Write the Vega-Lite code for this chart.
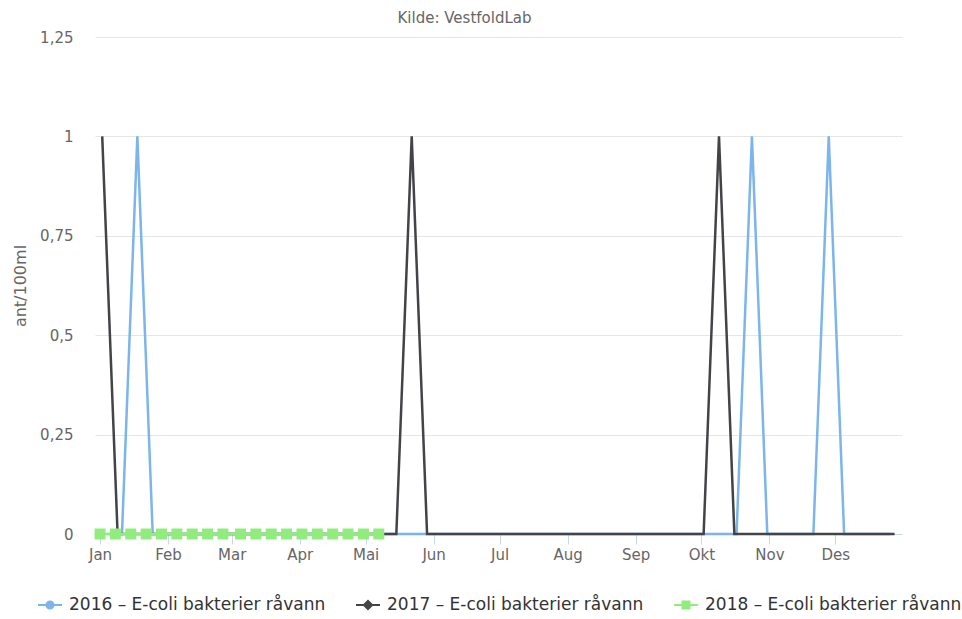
{
  "$schema": "https://vega.github.io/schema/vega-lite/v6.json",
  "width": 807,
  "height": 497,
  "autosize": {"type": "none"},
  "padding": {"left": 95, "top": 37, "right": 60, "bottom": 85},
  "background": "white",
  "config": {
    "font": "DejaVu Sans",
    "view": {"stroke": null}
  },
  "title": {
    "text": "Kilde: VestfoldLab",
    "fontSize": 15,
    "fontWeight": "normal",
    "color": "#666666",
    "anchor": "middle",
    "dx": -34,
    "offset": 4
  },
  "datasets": {
    "prover": [
      {"serie": "2016 – E-coli bakterier råvann", "dato": "2016-01-04", "verdi": 0},
      {"serie": "2016 – E-coli bakterier råvann", "dato": "2016-01-11", "verdi": 0},
      {"serie": "2016 – E-coli bakterier råvann", "dato": "2016-01-18", "verdi": 1},
      {"serie": "2016 – E-coli bakterier råvann", "dato": "2016-01-25", "verdi": 0},
      {"serie": "2016 – E-coli bakterier råvann", "dato": "2016-02-01", "verdi": 0},
      {"serie": "2016 – E-coli bakterier råvann", "dato": "2016-02-08", "verdi": 0},
      {"serie": "2016 – E-coli bakterier råvann", "dato": "2016-02-15", "verdi": 0},
      {"serie": "2016 – E-coli bakterier råvann", "dato": "2016-02-22", "verdi": 0},
      {"serie": "2016 – E-coli bakterier råvann", "dato": "2016-02-29", "verdi": 0},
      {"serie": "2016 – E-coli bakterier råvann", "dato": "2016-03-07", "verdi": 0},
      {"serie": "2016 – E-coli bakterier råvann", "dato": "2016-03-14", "verdi": 0},
      {"serie": "2016 – E-coli bakterier råvann", "dato": "2016-03-21", "verdi": 0},
      {"serie": "2016 – E-coli bakterier råvann", "dato": "2016-03-28", "verdi": 0},
      {"serie": "2016 – E-coli bakterier råvann", "dato": "2016-04-04", "verdi": 0},
      {"serie": "2016 – E-coli bakterier råvann", "dato": "2016-04-11", "verdi": 0},
      {"serie": "2016 – E-coli bakterier råvann", "dato": "2016-04-18", "verdi": 0},
      {"serie": "2016 – E-coli bakterier råvann", "dato": "2016-04-25", "verdi": 0},
      {"serie": "2016 – E-coli bakterier råvann", "dato": "2016-05-02", "verdi": 0},
      {"serie": "2016 – E-coli bakterier råvann", "dato": "2016-05-09", "verdi": 0},
      {"serie": "2016 – E-coli bakterier råvann", "dato": "2016-05-16", "verdi": 0},
      {"serie": "2016 – E-coli bakterier råvann", "dato": "2016-05-23", "verdi": 0},
      {"serie": "2016 – E-coli bakterier råvann", "dato": "2016-05-30", "verdi": 0},
      {"serie": "2016 – E-coli bakterier råvann", "dato": "2016-06-06", "verdi": 0},
      {"serie": "2016 – E-coli bakterier råvann", "dato": "2016-06-13", "verdi": 0},
      {"serie": "2016 – E-coli bakterier råvann", "dato": "2016-06-20", "verdi": 0},
      {"serie": "2016 – E-coli bakterier råvann", "dato": "2016-06-27", "verdi": 0},
      {"serie": "2016 – E-coli bakterier råvann", "dato": "2016-07-04", "verdi": 0},
      {"serie": "2016 – E-coli bakterier råvann", "dato": "2016-07-11", "verdi": 0},
      {"serie": "2016 – E-coli bakterier råvann", "dato": "2016-07-18", "verdi": 0},
      {"serie": "2016 – E-coli bakterier råvann", "dato": "2016-07-25", "verdi": 0},
      {"serie": "2016 – E-coli bakterier råvann", "dato": "2016-08-01", "verdi": 0},
      {"serie": "2016 – E-coli bakterier råvann", "dato": "2016-08-08", "verdi": 0},
      {"serie": "2016 – E-coli bakterier råvann", "dato": "2016-08-15", "verdi": 0},
      {"serie": "2016 – E-coli bakterier råvann", "dato": "2016-08-22", "verdi": 0},
      {"serie": "2016 – E-coli bakterier råvann", "dato": "2016-08-29", "verdi": 0},
      {"serie": "2016 – E-coli bakterier råvann", "dato": "2016-09-05", "verdi": 0},
      {"serie": "2016 – E-coli bakterier råvann", "dato": "2016-09-12", "verdi": 0},
      {"serie": "2016 – E-coli bakterier råvann", "dato": "2016-09-19", "verdi": 0},
      {"serie": "2016 – E-coli bakterier råvann", "dato": "2016-09-26", "verdi": 0},
      {"serie": "2016 – E-coli bakterier råvann", "dato": "2016-10-03", "verdi": 0},
      {"serie": "2016 – E-coli bakterier råvann", "dato": "2016-10-10", "verdi": 0},
      {"serie": "2016 – E-coli bakterier råvann", "dato": "2016-10-17", "verdi": 0},
      {"serie": "2016 – E-coli bakterier råvann", "dato": "2016-10-24", "verdi": 1},
      {"serie": "2016 – E-coli bakterier råvann", "dato": "2016-10-31", "verdi": 0},
      {"serie": "2016 – E-coli bakterier råvann", "dato": "2016-11-07", "verdi": 0},
      {"serie": "2016 – E-coli bakterier råvann", "dato": "2016-11-14", "verdi": 0},
      {"serie": "2016 – E-coli bakterier råvann", "dato": "2016-11-21", "verdi": 0},
      {"serie": "2016 – E-coli bakterier råvann", "dato": "2016-11-28", "verdi": 1},
      {"serie": "2016 – E-coli bakterier råvann", "dato": "2016-12-05", "verdi": 0},
      {"serie": "2016 – E-coli bakterier råvann", "dato": "2016-12-12", "verdi": 0},
      {"serie": "2016 – E-coli bakterier råvann", "dato": "2016-12-19", "verdi": 0},
      {"serie": "2016 – E-coli bakterier råvann", "dato": "2016-12-26", "verdi": 0},
      {"serie": "2017 – E-coli bakterier råvann", "dato": "2017-01-02", "verdi": 1},
      {"serie": "2017 – E-coli bakterier råvann", "dato": "2017-01-09", "verdi": 0},
      {"serie": "2017 – E-coli bakterier råvann", "dato": "2017-01-16", "verdi": 0},
      {"serie": "2017 – E-coli bakterier råvann", "dato": "2017-01-23", "verdi": 0},
      {"serie": "2017 – E-coli bakterier råvann", "dato": "2017-01-30", "verdi": 0},
      {"serie": "2017 – E-coli bakterier råvann", "dato": "2017-02-06", "verdi": 0},
      {"serie": "2017 – E-coli bakterier råvann", "dato": "2017-02-13", "verdi": 0},
      {"serie": "2017 – E-coli bakterier råvann", "dato": "2017-02-20", "verdi": 0},
      {"serie": "2017 – E-coli bakterier råvann", "dato": "2017-02-27", "verdi": 0},
      {"serie": "2017 – E-coli bakterier råvann", "dato": "2017-03-06", "verdi": 0},
      {"serie": "2017 – E-coli bakterier råvann", "dato": "2017-03-13", "verdi": 0},
      {"serie": "2017 – E-coli bakterier råvann", "dato": "2017-03-20", "verdi": 0},
      {"serie": "2017 – E-coli bakterier råvann", "dato": "2017-03-27", "verdi": 0},
      {"serie": "2017 – E-coli bakterier råvann", "dato": "2017-04-03", "verdi": 0},
      {"serie": "2017 – E-coli bakterier råvann", "dato": "2017-04-10", "verdi": 0},
      {"serie": "2017 – E-coli bakterier råvann", "dato": "2017-04-17", "verdi": 0},
      {"serie": "2017 – E-coli bakterier råvann", "dato": "2017-04-24", "verdi": 0},
      {"serie": "2017 – E-coli bakterier råvann", "dato": "2017-05-01", "verdi": 0},
      {"serie": "2017 – E-coli bakterier råvann", "dato": "2017-05-08", "verdi": 0},
      {"serie": "2017 – E-coli bakterier råvann", "dato": "2017-05-15", "verdi": 0},
      {"serie": "2017 – E-coli bakterier råvann", "dato": "2017-05-22", "verdi": 1},
      {"serie": "2017 – E-coli bakterier råvann", "dato": "2017-05-29", "verdi": 0},
      {"serie": "2017 – E-coli bakterier råvann", "dato": "2017-06-05", "verdi": 0},
      {"serie": "2017 – E-coli bakterier råvann", "dato": "2017-06-12", "verdi": 0},
      {"serie": "2017 – E-coli bakterier råvann", "dato": "2017-06-19", "verdi": 0},
      {"serie": "2017 – E-coli bakterier råvann", "dato": "2017-06-26", "verdi": 0},
      {"serie": "2017 – E-coli bakterier råvann", "dato": "2017-07-03", "verdi": 0},
      {"serie": "2017 – E-coli bakterier råvann", "dato": "2017-07-10", "verdi": 0},
      {"serie": "2017 – E-coli bakterier råvann", "dato": "2017-07-17", "verdi": 0},
      {"serie": "2017 – E-coli bakterier råvann", "dato": "2017-07-24", "verdi": 0},
      {"serie": "2017 – E-coli bakterier råvann", "dato": "2017-07-31", "verdi": 0},
      {"serie": "2017 – E-coli bakterier råvann", "dato": "2017-08-07", "verdi": 0},
      {"serie": "2017 – E-coli bakterier råvann", "dato": "2017-08-14", "verdi": 0},
      {"serie": "2017 – E-coli bakterier råvann", "dato": "2017-08-21", "verdi": 0},
      {"serie": "2017 – E-coli bakterier råvann", "dato": "2017-08-28", "verdi": 0},
      {"serie": "2017 – E-coli bakterier råvann", "dato": "2017-09-04", "verdi": 0},
      {"serie": "2017 – E-coli bakterier råvann", "dato": "2017-09-11", "verdi": 0},
      {"serie": "2017 – E-coli bakterier råvann", "dato": "2017-09-18", "verdi": 0},
      {"serie": "2017 – E-coli bakterier råvann", "dato": "2017-09-25", "verdi": 0},
      {"serie": "2017 – E-coli bakterier råvann", "dato": "2017-10-02", "verdi": 0},
      {"serie": "2017 – E-coli bakterier råvann", "dato": "2017-10-09", "verdi": 1},
      {"serie": "2017 – E-coli bakterier råvann", "dato": "2017-10-16", "verdi": 0},
      {"serie": "2017 – E-coli bakterier råvann", "dato": "2017-10-23", "verdi": 0},
      {"serie": "2017 – E-coli bakterier råvann", "dato": "2017-10-30", "verdi": 0},
      {"serie": "2017 – E-coli bakterier råvann", "dato": "2017-11-06", "verdi": 0},
      {"serie": "2017 – E-coli bakterier råvann", "dato": "2017-11-13", "verdi": 0},
      {"serie": "2017 – E-coli bakterier råvann", "dato": "2017-11-20", "verdi": 0},
      {"serie": "2017 – E-coli bakterier råvann", "dato": "2017-11-27", "verdi": 0},
      {"serie": "2017 – E-coli bakterier råvann", "dato": "2017-12-04", "verdi": 0},
      {"serie": "2017 – E-coli bakterier råvann", "dato": "2017-12-11", "verdi": 0},
      {"serie": "2017 – E-coli bakterier råvann", "dato": "2017-12-18", "verdi": 0},
      {"serie": "2017 – E-coli bakterier råvann", "dato": "2017-12-28", "verdi": 0},
      {"serie": "2018 – E-coli bakterier råvann", "dato": "2018-01-01", "verdi": 0},
      {"serie": "2018 – E-coli bakterier råvann", "dato": "2018-01-08", "verdi": 0},
      {"serie": "2018 – E-coli bakterier råvann", "dato": "2018-01-15", "verdi": 0},
      {"serie": "2018 – E-coli bakterier råvann", "dato": "2018-01-22", "verdi": 0},
      {"serie": "2018 – E-coli bakterier råvann", "dato": "2018-01-29", "verdi": 0},
      {"serie": "2018 – E-coli bakterier råvann", "dato": "2018-02-05", "verdi": 0},
      {"serie": "2018 – E-coli bakterier råvann", "dato": "2018-02-12", "verdi": 0},
      {"serie": "2018 – E-coli bakterier råvann", "dato": "2018-02-19", "verdi": 0},
      {"serie": "2018 – E-coli bakterier råvann", "dato": "2018-02-26", "verdi": 0},
      {"serie": "2018 – E-coli bakterier råvann", "dato": "2018-03-05", "verdi": 0},
      {"serie": "2018 – E-coli bakterier råvann", "dato": "2018-03-12", "verdi": 0},
      {"serie": "2018 – E-coli bakterier råvann", "dato": "2018-03-19", "verdi": 0},
      {"serie": "2018 – E-coli bakterier råvann", "dato": "2018-03-26", "verdi": 0},
      {"serie": "2018 – E-coli bakterier råvann", "dato": "2018-04-02", "verdi": 0},
      {"serie": "2018 – E-coli bakterier råvann", "dato": "2018-04-09", "verdi": 0},
      {"serie": "2018 – E-coli bakterier råvann", "dato": "2018-04-16", "verdi": 0},
      {"serie": "2018 – E-coli bakterier råvann", "dato": "2018-04-23", "verdi": 0},
      {"serie": "2018 – E-coli bakterier råvann", "dato": "2018-04-30", "verdi": 0},
      {"serie": "2018 – E-coli bakterier råvann", "dato": "2018-05-07", "verdi": 0}
    ]
  },
  "data": {"name": "prover"},
  "encoding": {
    "x": {
      "field": "dato",
      "type": "temporal",
      "timeUnit": "utcmonthdate",
      "scale": {
        "domain": [
          {"year": 2011, "month": 12, "date": 29, "hours": 17, "utc": true},
          {"year": 2012, "month": 12, "date": 31, "hours": 9, "utc": true}
        ]
      },
      "axis": {
        "title": null,
        "grid": false,
        "tickCount": {"interval": "month", "step": 1},
        "labelExpr": "['Jan','Feb','Mar','Apr','Mai','Jun','Jul','Aug','Sep','Okt','Nov','Des'][utcmonth(datum.value)]",
        "domainColor": "#ccd6eb",
        "tickColor": "#ccd6eb",
        "tickSize": 10,
        "labelPadding": 3,
        "labelFontSize": 15,
        "labelColor": "#666666",
        "labelFlush": false,
        "labelOverlap": false
      }
    },
    "y": {
      "field": "verdi",
      "type": "quantitative",
      "scale": {"domain": [0, 1.25], "nice": false},
      "axis": {
        "title": "ant/100ml",
        "values": [0, 0.25, 0.5, 0.75, 1, 1.25],
        "labelExpr": "replace(toString(datum.value), '.', ',')",
        "domain": false,
        "ticks": false,
        "gridColor": "#e6e6e6",
        "labelPadding": 22,
        "labelFontSize": 15,
        "labelColor": "#666666",
        "titleFontSize": 16,
        "titleFontWeight": "normal",
        "titleColor": "#666666",
        "titleX": -75,
        "titleY": 248.5,
        "titleBaseline": "middle",
        "titleAlign": "center",
        "titleAngle": -90
      }
    },
    "color": {
      "field": "serie",
      "type": "nominal",
      "scale": {"range": ["#7cb5ec", "#434348", "#90ed7d"]},
      "legend": {
        "title": null,
        "orient": "none",
        "legendX": -57,
        "legendY": 556,
        "direction": "horizontal",
        "padding": 0,
        "columnPadding": 30,
        "labelOffset": 7,
        "labelFontSize": 17,
        "labelColor": "#333333",
        "labelLimit": 400,
        "symbolSize": 576,
        "symbolStrokeWidth": 0,
        "encode": {
          "symbols": {
            "update": {
              "shape": {"scale": "shape", "field": "value"},
              "fill": {"scale": "color", "field": "value"},
              "strokeWidth": {"value": 0}
            }
          }
        }
      }
    }
  },
  "layer": [
    {
      "mark": {"type": "line", "strokeWidth": 2.5, "interpolate": "linear"}
    },
    {
      "transform": [{"filter": "datum.serie === '2018 – E-coli bakterier råvann'"}],
      "mark": {"type": "point", "shape": "square", "filled": true, "size": 120, "opacity": 1}
    },
    {
      "mark": {"type": "point", "filled": true, "size": 0.01, "opacity": 1},
      "encoding": {
        "shape": {
          "field": "serie",
          "type": "nominal",
          "scale": {
            "range": [
              "M-1,-0.09L1,-0.09L1,0.09L-1,0.09Z M0.38,0L0.35,0.15L0.27,0.27L0.15,0.35L0,0.38L-0.15,0.35L-0.27,0.27L-0.35,0.15L-0.38,0L-0.35,-0.15L-0.27,-0.27L-0.15,-0.35L0,-0.38L0.15,-0.35L0.27,-0.27L0.35,-0.15Z",
              "M-1,-0.09L1,-0.09L1,0.09L-1,0.09Z M0,-0.46L0.46,0L0,0.46L-0.46,0Z",
              "M-1,-0.09L1,-0.09L1,0.09L-1,0.09Z M-0.375,-0.375L0.375,-0.375L0.375,0.375L-0.375,0.375Z"
            ]
          },
          "legend": null
        }
      }
    }
  ]
}
